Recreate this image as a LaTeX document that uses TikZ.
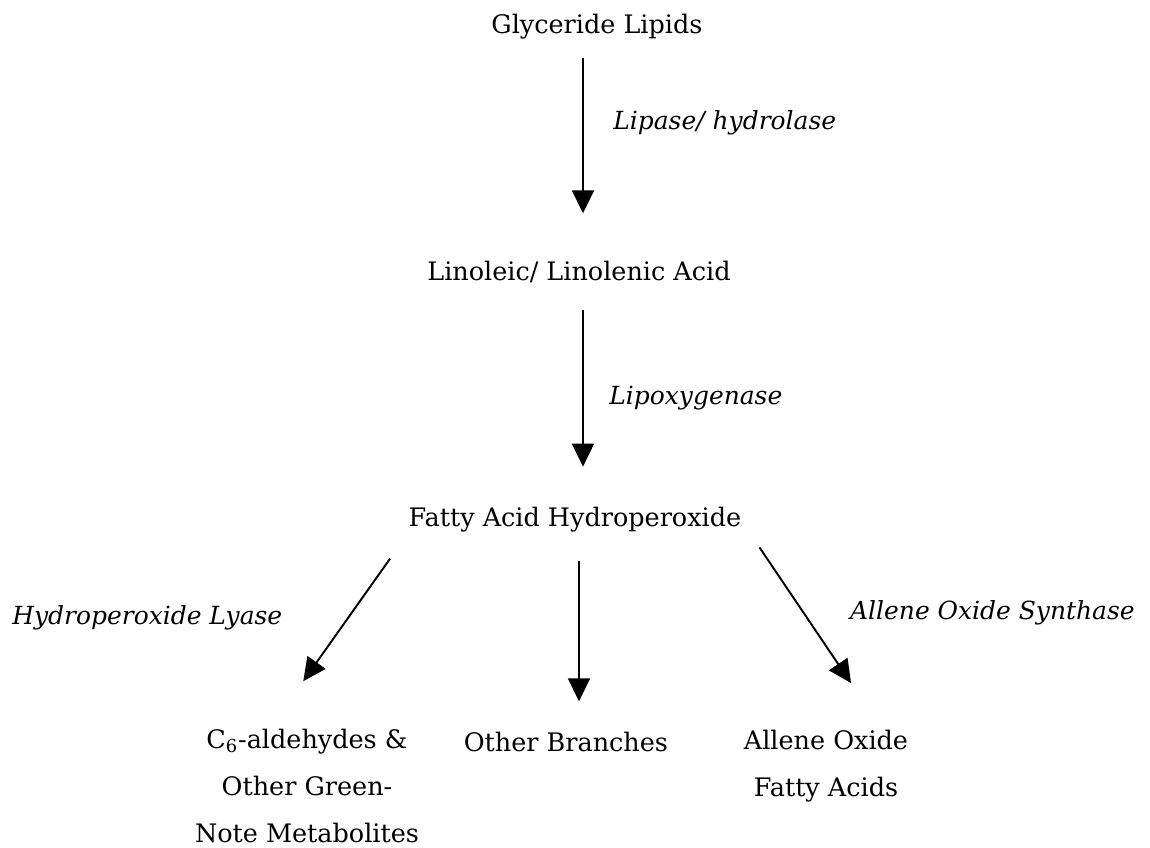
\documentclass[tikz,border=0pt]{standalone}
\usepackage{fontspec}
\setmainfont{DejaVu Serif}
\usetikzlibrary{arrows.meta}
\tikzset{
  compound/.style = {
    align = center,
    inner sep = 0pt,
    font = \fontsize{14.5}{27}\selectfont},
  enzyme/.style = {
    anchor = west,
    inner sep = 0pt,
    font = \fontsize{14.2}{16}\selectfont\itshape},
  step arrow/.style = {
    ->,
    line width = 1.1pt}
}

\begin{document}
\begin{tikzpicture}[x = 0.02cm, y = -0.02cm, >={Triangle[length=0.46cm,width=0.44cm]}]
  \useasboundingbox (0,0) rectangle (1150,848);
  \node[compound] (glyc)   at (601,27)  { Glyceride Lipids };
  \node[compound] (lino)   at (583,272) { Linoleic/ Linolenic Acid };
  \node[compound] (fatty)  at (579,520) { Fatty Acid Hydroperoxide };
  \node[compound] (aldeh)  at (307,786) { C\textsubscript{6}-aldehydes \& \\ Other Green- \\ Note Metabolites };
  \node[compound] (other)  at (570,742) { Other Branches };
  \node[compound] (allene) at (826,766) { Allene Oxide \\ Fatty Acids };
  \node[enzyme] (lipase) at (613,123) { Lipase/ hydrolase };
  \node[enzyme] (lox)    at (609,398) { Lipoxygenase };
  \node[enzyme] (hpl)    at (12,618)  { Hydroperoxide Lyase };
  \node[enzyme, anchor = east] (aos) at (1135,613) { Allene Oxide Synthase };
  \draw[step arrow, shorten <= 0.37cm, shorten >= 0.95cm] (glyc.south -| lino) -- (lino);
  \draw[step arrow, shorten <= 0.53cm, shorten >= 0.81cm] (lino.south) -- (lino.south |- fatty.north);
  \draw[step arrow, shorten <= 0.57cm, shorten >= 0.61cm] (fatty.south) -- (fatty.south |- other.north);
  \draw[step arrow, shorten <= 0.63cm, shorten >= 2.57cm] (fatty.south west) -- ([xshift=-1.56cm]aldeh.center);
  \draw[step arrow, shorten <= 0.35cm, shorten >= 2.0cm]  (fatty.south east) -- ([xshift=1.62cm]allene.center);
\end{tikzpicture}
\end{document}
